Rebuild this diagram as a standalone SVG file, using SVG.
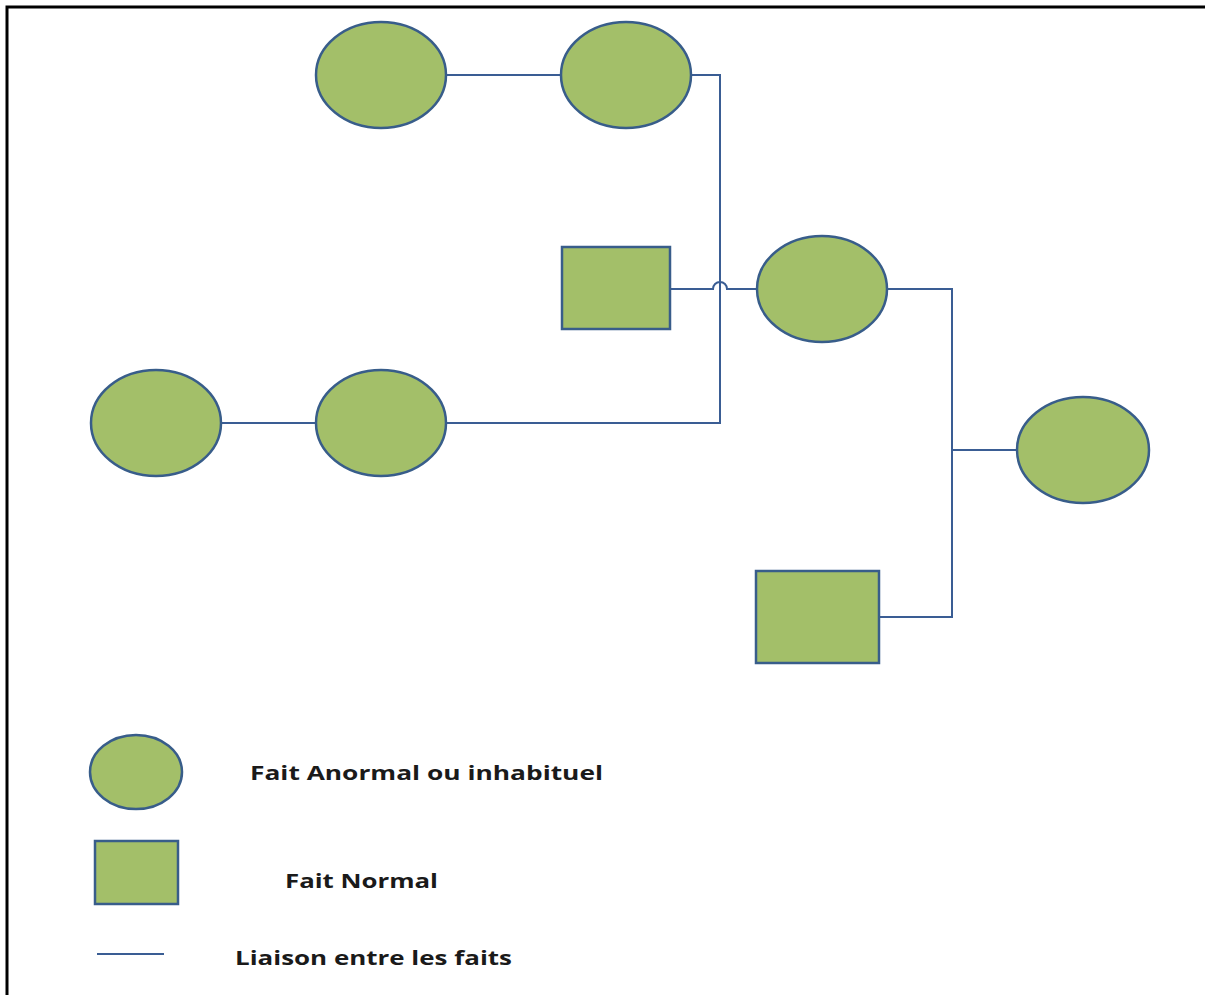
<svg xmlns="http://www.w3.org/2000/svg" width="1205" height="995" viewBox="0 0 1205 995">
  <style>
    .fait { fill: #A3BF69; stroke: #385D8A; stroke-width: 2.5; }
    .lien { fill: none; stroke: #3A5D94; stroke-width: 2; }
    .label { font-family: "Open Sans", "Liberation Sans", sans-serif; font-weight: bold; font-size: 19px; fill: #1a1a1a; }
  </style>
  <rect width="1205" height="995" fill="#ffffff"/>
  <!-- page frame (top and left edges) -->
  <path d="M7,995 V7 H1205" fill="none" stroke="#000000" stroke-width="3"/>

  <!-- links between facts -->
  <g id="connectors">
    <path class="lien" d="M446,75 H561"/>
    <path class="lien" d="M691,75 H720 V423 H446"/>
    <path class="lien" d="M221,423 H316"/>
    <path class="lien" d="M670,289 H713 A7,7 0 0 1 727,289 H757"/>
    <path class="lien" d="M888,289 H952 V617 H879"/>
    <path class="lien" d="M952,450 H1017"/>
  </g>

  <g id="fait-a"><ellipse class="fait" cx="381" cy="75" rx="65" ry="53"/></g>
  <g id="fait-b"><ellipse class="fait" cx="626" cy="75" rx="65" ry="53"/></g>
  <g id="fait-c"><rect class="fait" x="562" y="247" width="108" height="82"/></g>
  <g id="fait-d"><ellipse class="fait" cx="822" cy="289" rx="65" ry="53"/></g>
  <g id="fait-e"><ellipse class="fait" cx="156" cy="423" rx="65" ry="53"/></g>
  <g id="fait-f"><ellipse class="fait" cx="381" cy="423" rx="65" ry="53"/></g>
  <g id="fait-g"><ellipse class="fait" cx="1083" cy="450" rx="66" ry="53"/></g>
  <g id="fait-h"><rect class="fait" x="756" y="571" width="123" height="92"/></g>

  <!-- legend -->
  <g id="legende-anormal">
    <ellipse class="fait" cx="136" cy="772" rx="46" ry="37"/>
    <text class="label" x="250" y="780" textLength="353" lengthAdjust="spacingAndGlyphs">Fait Anormal ou inhabituel</text>
  </g>
  <g id="legende-normal">
    <rect class="fait" x="95" y="841" width="83" height="63"/>
    <text class="label" x="285" y="888" textLength="153" lengthAdjust="spacingAndGlyphs">Fait Normal</text>
  </g>
  <g id="legende-liaison">
    <path class="lien" d="M97,954 H164" stroke-width="2.5"/>
    <text class="label" x="235" y="965" textLength="277" lengthAdjust="spacingAndGlyphs">Liaison entre les faits</text>
  </g>
</svg>
